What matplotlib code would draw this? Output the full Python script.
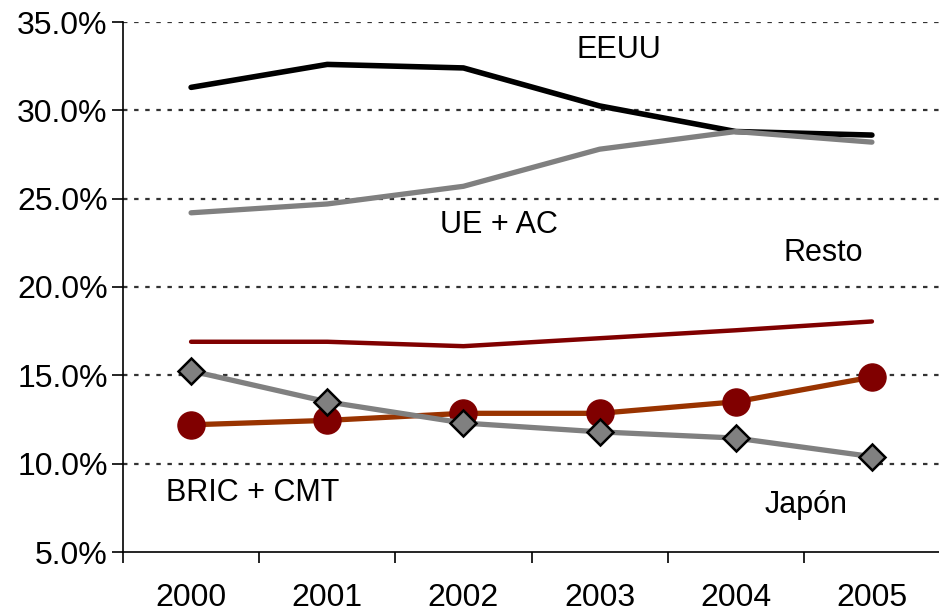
import numpy as np
from matplotlib import pyplot as plt
from matplotlib.ticker import FuncFormatter

years = ['2000', '2001', '2002', '2003', '2004', '2005']
eeuu = [31.3, 32.6, 32.4, 30.25, 28.8, 28.6]
ue_ac = [24.2, 24.7, 25.7, 27.8, 28.8, 28.2]
resto = [16.9, 16.9, 16.65, 17.1, 17.55, 18.05]
bric_cmt = [12.2, 12.45, 12.85, 12.85, 13.5, 14.9]
japon = [15.25, 13.5, 12.3, 11.8, 11.45, 10.4]

plt.rcParams['font.family'] = ['Liberation Sans', 'DejaVu Sans']

fig = plt.figure(figsize=(9.39, 6.11), dpi=100)
ax = fig.add_axes([123 / 939, 1 - 552 / 611, 817 / 939, 530 / 611])
x = np.arange(len(years))

ax.plot(x, eeuu, color='black', lw=4, solid_capstyle='round', zorder=3)
ax.plot(x, ue_ac, color='#808080', lw=3.8, solid_capstyle='round', zorder=3)
ax.plot(x, resto, color='#800000', lw=3.2, solid_capstyle='round', zorder=3)
ax.plot(x, bric_cmt, color='#993300', lw=3.8, marker='o', ms=19.5,
        mfc='#800000', mec='#800000', zorder=4)
ax.plot(x, japon, color='#808080', lw=3.8, marker='D', ms=13,
        mfc='#808080', mec='black', mew=1.8, zorder=5)

for yv in [10, 15, 20, 25, 30, 35]:
    ax.axhline(yv, color='#333333', lw=1.6, ls=(0, (2, 3)), zorder=1)

ax.set_xlim(-0.5, 5.5)
ax.set_ylim(5, 35)
ax.set_yticks([5, 10, 15, 20, 25, 30, 35])
ax.yaxis.set_major_formatter(FuncFormatter(lambda v, p: '%.1f%%' % v))
ax.set_xticks(x)
ax.set_xticklabels(years)
ax.set_xticks(np.arange(-0.5, 6, 1), minor=True)
ax.tick_params(axis='x', which='major', length=0, labelsize=23, pad=22)
ax.tick_params(axis='x', which='minor', length=8, width=1.2, direction='out')
ax.tick_params(axis='y', length=8, width=1.2, labelsize=23, pad=3)

ax.spines['top'].set_visible(False)
ax.spines['right'].set_visible(False)
ax.spines['left'].set_linewidth(1.2)
ax.spines['bottom'].set_linewidth(1.2)

ax.text(3.14, 33.4, 'EEUU', fontsize=22, ha='center', va='center')
ax.text(2.26, 23.5, 'UE + AC', fontsize=22, ha='center', va='center')
ax.text(4.64, 21.9, 'Resto', fontsize=22, ha='center', va='center')
ax.text(0.45, 8.33, 'BRIC + CMT', fontsize=22, ha='center', va='center')
ax.text(4.52, 7.65, 'Japón', fontsize=22, ha='center', va='center')

plt.savefig('out.png', dpi=100)
plt.close()
